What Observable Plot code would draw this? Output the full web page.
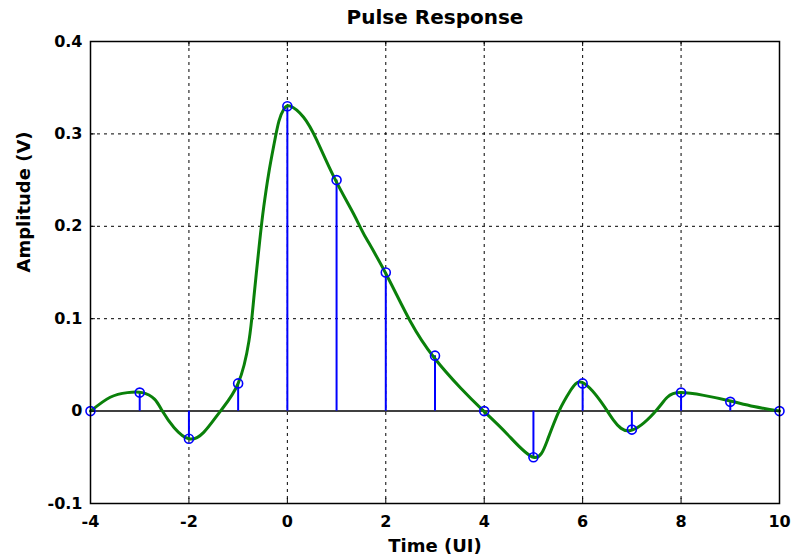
<!DOCTYPE html>
<html>
<head>
<meta charset="utf-8">
<script src="https://cdn.jsdelivr.net/npm/d3@7"></script>
<script src="https://cdn.jsdelivr.net/npm/@observablehq/plot@0.6"></script>
<style>
  html, body { margin: 0; padding: 0; background: #fff; }
  svg text { fill: #000; }
</style>
</head>
<body>
<div id="chart"></div>
<script>
// Sampled pulse response (stems)
const stemTimes = [-4, -3, -2, -1, 0, 1, 2, 3, 4, 5, 6, 7, 8, 9, 10];
const stemValues = [0, 0.02, -0.03, 0.03, 0.33, 0.25, 0.15, 0.06, 0, -0.05, 0.03, -0.02, 0.02, 0.01, 0];

// Continuous pulse response (green curve)
const curveTimes = [-4, -3.6, -3.25, -2.95, -2.7, -2.54, -2.3, -2.0, -1.7, -1.36, -1.0, -0.78, -0.68, -0.56, -0.48, -0.38, -0.27, -0.17, -0.07, 0.06, 0.33, 0.6, 0.95, 1.35, 1.55, 1.99, 2.5, 2.98, 3.52, 3.99, 4.47, 5.0, 5.28, 5.52, 5.75, 5.99, 6.36, 6.63, 6.97, 7.45, 7.72, 7.99, 8.46, 9.0, 9.48, 10];
const curveValues = [0, 0.015, 0.020, 0.020, 0.013, 0, -0.018, -0.030, -0.023, 0, 0.030, 0.076, 0.123, 0.185, 0.221, 0.257, 0.289, 0.314, 0.327, 0.330, 0.318, 0.293, 0.253, 0.213, 0.192, 0.150, 0.097, 0.058, 0.025, 0, -0.025, -0.050, -0.032, 0, 0.022, 0.031, 0.011, -0.010, -0.021, -0.002, 0.015, 0.020, 0.017, 0.011, 0.005, 0];

const xTicks = [-4, -2, 0, 2, 4, 6, 8, 10];
const yTicks = [-0.1, 0, 0.1, 0.2, 0.3, 0.4];
const xGrid = [-2, 0, 2, 4, 6, 8];
const yGrid = [0.1, 0.2, 0.3];

const titleText = "Pulse Response";
const xLabel = "Time (UI)";
const yLabel = "Amplitude (V)";

const stems = stemTimes.map((t, i) => ({t, v: stemValues[i]}));
const curve = curveTimes.map((t, i) => ({t, v: curveValues[i]}));

const xDom = [-4, 10];
const yDom = [-0.1, 0.4];
const ticLenY = 0.0055; // inward tick length in y units
const ticLenX = 0.1;    // inward tick length in x units

const chart = Plot.plot({
  width: 799,
  height: 560,
  marginLeft: 90,
  marginRight: 20,
  marginTop: 41,
  marginBottom: 57,
  style: { fontFamily: "DejaVu Sans", background: "#fff", color: "#000", overflow: "visible" },
  x: { domain: xDom },
  y: { domain: yDom },
  marks: [
    Plot.ruleX(xGrid, { stroke: "#000", strokeWidth: 1, strokeDasharray: "3,4" }),
    Plot.ruleY(yGrid, { stroke: "#000", strokeWidth: 1, strokeDasharray: "3,4" }),
    Plot.ruleY([0], { stroke: "#000", strokeWidth: 1.5 }),
    Plot.ruleX(stems, { x: "t", y1: 0, y2: "v", stroke: "#0000ff", strokeWidth: 2 }),
    Plot.line(curve, { x: "t", y: "v", curve: "natural", stroke: "#0a800a", strokeWidth: 3 }),
    Plot.dot(stems, { x: "t", y: "v", r: 4.5, stroke: "#0000ff", strokeWidth: 1.6, fill: "none" }),
    // inward ticks
    Plot.ruleX(xTicks, { x: d => d, y1: yDom[0], y2: yDom[0] + ticLenY, stroke: "#000" }),
    Plot.ruleX(xTicks, { x: d => d, y1: yDom[1] - ticLenY, y2: yDom[1], stroke: "#000" }),
    Plot.ruleY(yTicks, { y: d => d, x1: xDom[0], x2: xDom[0] + ticLenX, stroke: "#000" }),
    Plot.ruleY(yTicks, { y: d => d, x1: xDom[1] - ticLenX, x2: xDom[1], stroke: "#000" }),
    Plot.frame({ stroke: "#000", strokeWidth: 1.5 }),
    Plot.axisX({ ticks: xTicks, tickSize: 0, tickPadding: 12, tickFormat: d => String(d), label: null, fontSize: 16, fontWeight: "bold" }),
    Plot.axisY({ ticks: yTicks, tickSize: 0, tickPadding: 8, tickFormat: d => String(d), label: null, fontSize: 16, fontWeight: "bold" }),
    Plot.text([titleText], { text: d => d, frameAnchor: "top", dy: -24, lineAnchor: "middle", fontSize: 20, fontWeight: "bold" }),
    Plot.text([xLabel], { text: d => d, frameAnchor: "bottom", dy: 43, lineAnchor: "middle", fontSize: 18, fontWeight: "bold" }),
    Plot.text([yLabel], { text: d => d, frameAnchor: "left", dx: -66, rotate: -90, lineAnchor: "middle", fontSize: 18, fontWeight: "bold" })
  ]
});
document.getElementById("chart").appendChild(chart);
</script>
</body>
</html>
